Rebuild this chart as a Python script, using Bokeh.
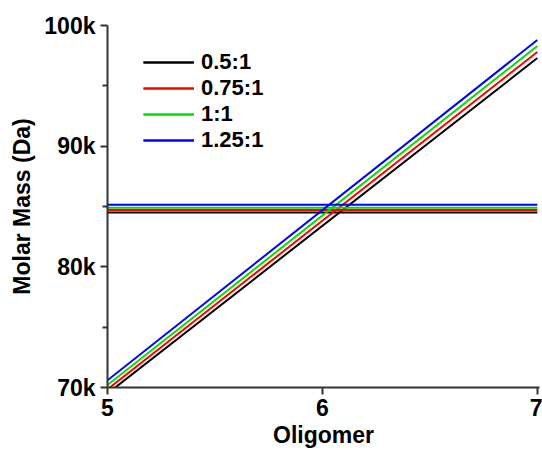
from bokeh.plotting import figure
from bokeh.models import Range1d, FixedTicker, Legend, LegendItem, CustomJSTickFormatter
from bokeh.embed import file_html
from bokeh.resources import INLINE

ratios = ["0.5:1", "0.75:1", "1:1", "1.25:1"]
colors = ["#000000", "#ff0000", "#00dd00", "#0000ff"]
oligomer = [5, 7]
# diagonal lines: molar mass at oligomer 5 and 7
diag_start = [69500, 69850, 70200, 70600]
diag_end = [97300, 97800, 98300, 98800]
# horizontal lines: constant molar mass
flat_mass = [84500, 84700, 84900, 85150]

FONT = "Liberation Sans"

p = figure(width=542, height=450, output_backend="svg", toolbar_location=None,
           x_range=Range1d(5, 7.01), y_range=Range1d(70000, 100000),
           min_border_left=107, min_border_right=3, min_border_top=25, min_border_bottom=61)
p.background_fill_color = "white"
p.border_fill_color = "white"
p.outline_line_color = None
p.xgrid.visible = False
p.ygrid.visible = False

items = []
for i, lab in enumerate(ratios):
    r1 = p.line(oligomer, [diag_start[i], diag_end[i]], line_color=colors[i], line_width=2)
    r2 = p.line(oligomer, [flat_mass[i], flat_mass[i]], line_color=colors[i], line_width=2)
    items.append(LegendItem(label=lab, renderers=[r1, r2]))

legend = Legend(items=items, location=(36, 234), padding=0, margin=0,
                glyph_width=51, glyph_height=26, spacing=0, label_standoff=7,
                label_height=26,
                label_text_font=FONT, label_text_font_style="bold",
                label_text_font_size="22px", label_text_color="black",
                border_line_color=None, background_fill_alpha=0)
p.add_layout(legend)

p.xaxis.ticker = FixedTicker(ticks=[5, 6, 7], minor_ticks=[])
p.yaxis.ticker = FixedTicker(ticks=[70000, 80000, 90000, 100000],
                             minor_ticks=[75000, 85000, 95000])
p.yaxis.formatter = CustomJSTickFormatter(code="return (tick/1000).toFixed(0) + 'k';")

for ax in (p.xaxis, p.yaxis):
    ax.axis_line_color = "#333333"
    ax.axis_line_width = 2
    ax.major_tick_line_color = "#333333"
    ax.major_tick_line_width = 2
    ax.minor_tick_line_color = "#333333"
    ax.minor_tick_line_width = 2
    ax.major_tick_out = 7
    ax.major_tick_in = 0
    ax.minor_tick_out = 5
    ax.minor_tick_in = 0
    ax.major_label_text_font = FONT
    ax.major_label_text_font_style = "bold"
    ax.major_label_text_font_size = "23px"
    ax.major_label_text_color = "black"
    ax.axis_label_text_font = FONT
    ax.axis_label_text_font_style = "bold"
    ax.axis_label_text_font_size = "23px"
    ax.axis_label_text_color = "black"

p.xaxis.axis_label = "Oligomer"
p.yaxis.axis_label = "Molar Mass (Da)"
p.xaxis.major_label_standoff = 4
p.yaxis.major_label_standoff = 5
p.xaxis.axis_label_standoff = 3
p.yaxis.axis_label_standoff = 6

open("out.html", "w").write(file_html(p, INLINE))
